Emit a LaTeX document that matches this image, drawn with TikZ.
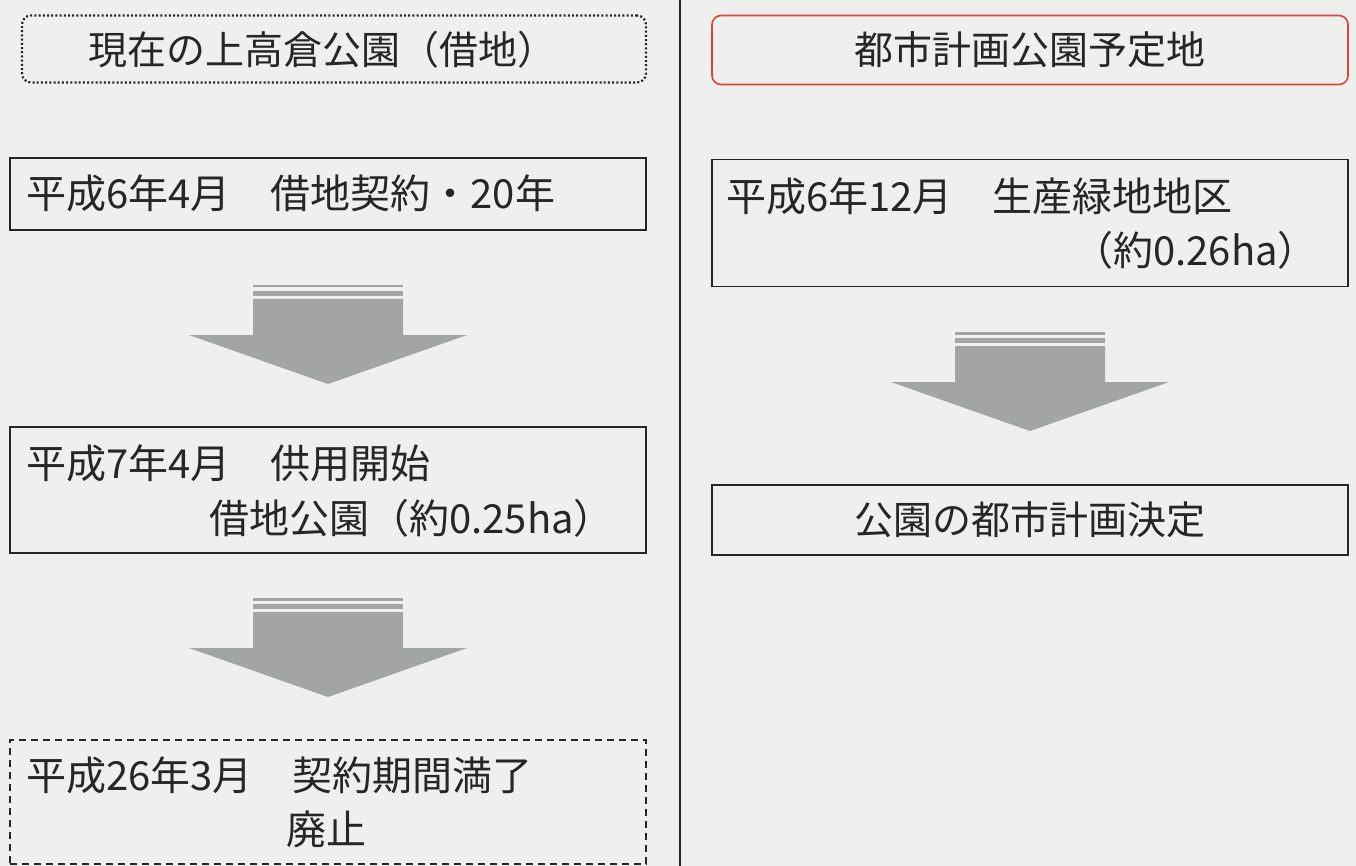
\documentclass[tikz,border=0pt]{standalone}
\usepackage{fontspec}
\newfontfamily\jp{Noto Sans CJK JP}
\definecolor{bg}{HTML}{EFEFED}
\definecolor{arrowgray}{HTML}{A2A5A2}
\definecolor{redline}{HTML}{D9453C}
\begin{document}
\begin{tikzpicture}[x=1pt,y=-1pt,
  box/.style={draw=black!85,line width=1.6pt,minimum width=636pt,inner sep=0pt,fill=none},
  txt/.style={inner sep=0pt,font=\jp\fontsize{40}{46}\selectfont,text=black!85},
  ttl/.style={txt,font=\jp\fontsize{39}{45}\selectfont}]
\useasboundingbox (0,0) rectangle (1356,866);
\fill[bg] (0,0) rectangle (1356,866);
% divider
\draw[line width=1.6pt,black!85] (680,0) -- (680,866);
% titles
\node[box,draw=black!85,line width=2.2pt,dash pattern=on 2pt off 2.2pt,rounded corners=9pt,minimum width=624pt,minimum height=67pt] (t1) at (334,49) {};
\node[ttl] (t1t) at (322,50) {現在の上高倉公園（借地）};
\node[box,draw=redline,rounded corners=9pt,minimum height=69pt] (t2) at (1030,50) {};
\node[ttl] (t2t) at (t2.center) {都市計画公園予定地};
% left column
\node[box,minimum height=72pt] (l1) at (328,194) {};
\node[txt,anchor=west] (l1t) at (26,193) {平成6年4月　借地契約・20年};
\node[box,minimum height=126pt] (l2) at (328,490) {};
\node[txt,anchor=west] (l2a) at (26,463) {平成7年4月　供用開始};
\node[txt,anchor=east] (l2b) at (614,518) {借地公園（約0.25ha）};
\node[box,dash pattern=on 7pt off 5pt,minimum height=124pt] (l3) at (328,802) {};
\node[txt,anchor=west] (l3a) at (26,775) {平成26年3月　契約期間満了};
\node[txt] (l3b) at (326,829) {廃止};
% right column
\node[box,minimum height=127pt] (r1) at (1030,223) {};
\node[txt,anchor=west] (r1a) at (726,196) {平成6年12月　生産緑地地区};
\node[txt,anchor=east] (r1b) at (1318,250) {（約0.26ha）};
\node[box,minimum height=70pt] (r2) at (1030,520) {};
\node[ttl] (r2t) at (r2.center) {公園の都市計画決定};
% block arrows
\newcommand{\blockarrowat}[2]{%
  \fill[arrowgray] (#1-75,#2) rectangle (#1+75,#2+2.5);
  \fill[arrowgray] (#1-75,#2+6) rectangle (#1+75,#2+11);
  \fill[arrowgray] (#1-75,#2+14) -- (#1+75,#2+14) -- (#1+75,#2+50) -- (#1+139,#2+50)
     -- (#1,#2+99) -- (#1-139,#2+50) -- (#1-75,#2+50) -- cycle;}
\blockarrowat{328}{285}
\blockarrowat{328}{598}
\blockarrowat{1030}{332}
\end{tikzpicture}
\end{document}
